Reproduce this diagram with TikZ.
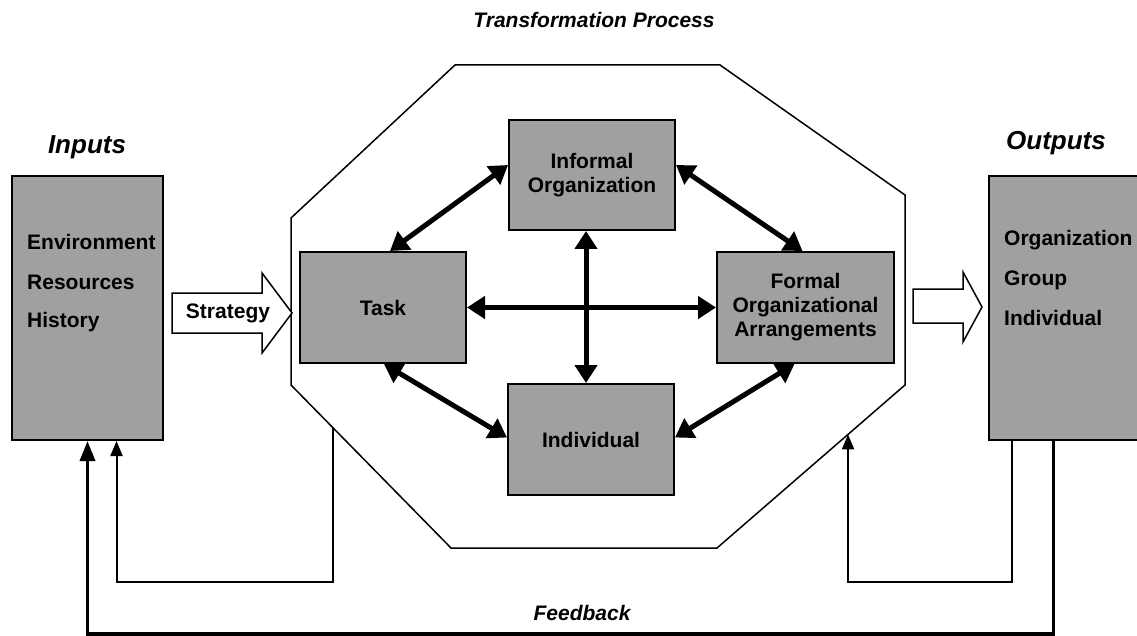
\documentclass[tikz,border=0pt]{standalone}
\usepackage{fontspec}
\setmainfont{Liberation Sans}
\usetikzlibrary{arrows.meta,calc}
\definecolor{boxgray}{RGB}{160,160,160}
\begin{document}
\begin{tikzpicture}[x=1pt,y=-1pt,
  box/.style={draw=black, line width=2pt, fill=boxgray, inner sep=0pt, align=center,
              font=\fontsize{21}{24}\selectfont\bfseries},
  item/.style={anchor=west, inner sep=0pt, font=\fontsize{21}{24}\selectfont\bfseries},
  heading/.style={inner sep=0pt, font=\fontsize{26}{30}\selectfont\bfseries\itshape},
  caption/.style={inner sep=0pt, font=\fontsize{21}{24}\selectfont\bfseries\itshape},
  link/.style={line width=5pt, {Triangle[length=18pt,width=22pt]}-{Triangle[length=18pt,width=22pt]}},
  fbthin/.style={line width=2pt, -{Triangle[length=15pt,width=12pt]}},
  fbthick/.style={line width=3.5pt, -{Triangle[length=20pt,width=15pt]}},
  hollow/.style={draw=black, line width=1.5pt, fill=white, line join=miter},
  octa/.style={draw=black, line width=1.5pt, line join=miter}
]
\useasboundingbox (0,0) rectangle (1137,636);

% title and headings
\node[caption] (title) at (594,20) {Transformation Process};
\node[heading] (inlabel) at (87,147) {Inputs};
\node[heading] (outlabel) at (1056,143) {Outputs};
\node[caption] (fblabel) at (582,613) {Feedback};

% octagon
\coordinate (oT1) at (455,65);
\coordinate (oT2) at (720,65);
\coordinate (oR1) at (905,195);
\coordinate (oR2) at (905,385);
\coordinate (oB2) at (717,548);
\coordinate (oB1) at (451,548);
\coordinate (oL2) at (291,385);
\coordinate (oL1) at (291,218);
\draw[octa] (oT1) -- (oT2) -- (oR1) -- (oR2) -- (oB2) -- (oB1) -- (oL2) -- (oL1) -- cycle;
\coordinate (fbL) at ($(oL2)!0.2625!(oB1)$);
\coordinate (fbR) at ($(oR2)!0.303!(oB2)$);

% input / output boxes
\node[box, minimum width=151pt, minimum height=264pt] (inputs) at (87.5,308) {};
\node[box, minimum width=149pt, minimum height=264pt] (outputs) at (1063.5,308) {};
\node[item] (env) at (27,242) {Environment};
\node[item] (res) at (27,282) {Resources};
\node[item] (his) at (27,322) {History};
\node[item] (org) at (1004,240) {Organization};
\node[item] (grp) at (1004,280) {Group};
\node[item] (indv) at (1004,318) {Individual};

% central boxes
\node[box, minimum width=166pt, minimum height=110pt] (inf) at (592,175) {Informal\\Organization};
\node[box, minimum width=166pt, minimum height=111pt] (task) at (383,307.5) {Task};
\node[box, minimum width=177pt, minimum height=111pt] (formal) at (805.5,307.5) {Formal\\Organizational\\Arrangements};
\node[box, minimum width=166pt, minimum height=111pt] (ind) at (591,439.5) {Individual};

% hollow arrows
\draw[hollow] (172,293) -- (262,293) -- (262,273) -- (292,313) -- (262,353) -- (262,333) -- (172,333) -- cycle;
\node[item, anchor=center] (strat) at (228,313) {Strategy};
\draw[hollow] (913,289) -- (963,289) -- (963,272) -- (982,307) -- (963,342) -- (963,323) -- (913,323) -- cycle;

% links
\draw[link] ([xshift=7pt]task.north) -- ([yshift=10pt]inf.west);
\draw[link] ([yshift=10pt]inf.east) -- ([xshift=-3pt]formal.north);
\draw[link] ([xshift=1pt]task.south) -- ([yshift=2pt]ind.west);
\draw[link] ([xshift=-11pt]formal.south) -- ([yshift=2pt]ind.east);
\draw[link] (task.east) -- (formal.west);
\draw[link] ([xshift=-6pt]inf.south) -- ([xshift=-5pt]ind.north);

% feedback
\draw[fbthin] (fbL) -- ++(0,154) -| ([xshift=29pt]inputs.south);
\draw[fbthin] ([xshift=-52pt]outputs.south) -- ++(0,141) -| (fbR);
\draw[fbthick] ([xshift=-10pt]outputs.south) -- ++(0,193) -| (inputs.south);
\end{tikzpicture}
\end{document}
